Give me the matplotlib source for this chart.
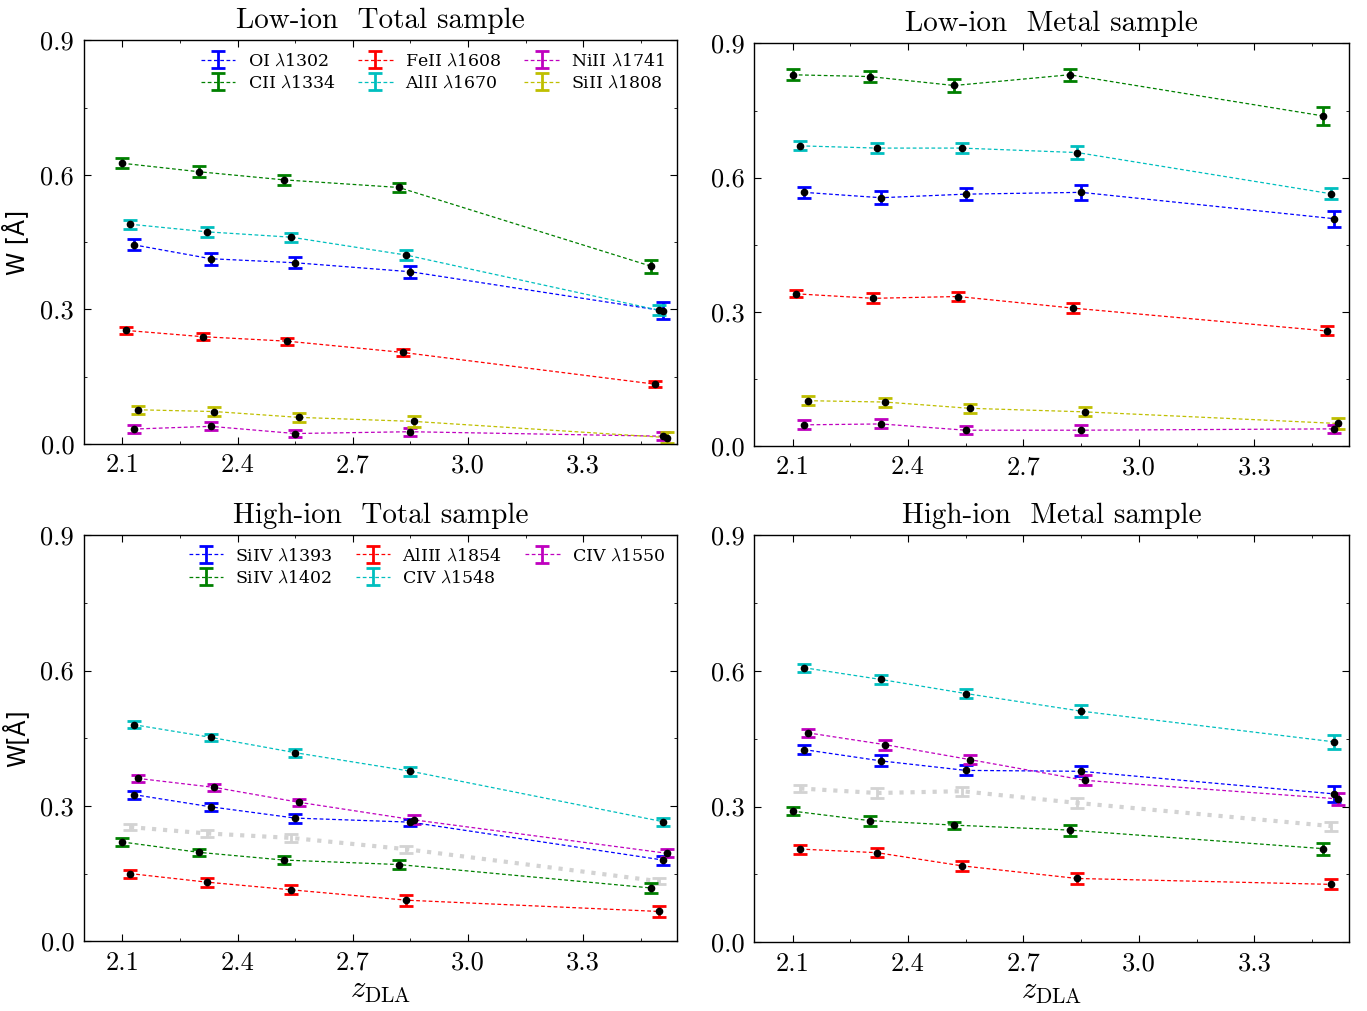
import numpy as np
import matplotlib
matplotlib.use("Agg")
import matplotlib.pyplot as plt
from matplotlib.ticker import MultipleLocator

plt.rcParams.update({
    "font.family": ["cmr10", "DejaVu Serif"],
    "mathtext.fontset": "cm",
    "axes.formatter.use_mathtext": True,
    "axes.linewidth": 1.0,
    "xtick.direction": "in", "ytick.direction": "in",
    "xtick.top": True, "ytick.right": True,
    "xtick.major.size": 5, "ytick.major.size": 5,
    "xtick.minor.size": 2.5, "ytick.minor.size": 2.5,
    "xtick.labelsize": 19, "ytick.labelsize": 19,
})

# redshift bins (median z_DLA) and small per-line offsets used in the plot
zbin = np.array([2.10, 2.30, 2.52, 2.82, 3.478])

# ---- low ions ----
low_names = ["OI $\\lambda$1302", "CII $\\lambda$1334", "FeII $\\lambda$1608",
             "AlII $\\lambda$1670", "NiII $\\lambda$1741", "SiII $\\lambda$1808"]
low_colors = ["b", "g", "r", "c", "m", "y"]
low_dz = [0.03, 0.0, 0.01, 0.02, 0.03, 0.04]

# total sample
lt_OI = [0.444, 0.413, 0.404, 0.384, 0.297]
lt_CII = [0.626, 0.607, 0.589, 0.572, 0.396]
lt_FeII = [0.253, 0.239, 0.229, 0.204, 0.133]
lt_AlII = [0.490, 0.473, 0.461, 0.421, 0.298]
lt_NiII = [0.033, 0.039, 0.023, 0.027, 0.017]
lt_SiII = [0.076, 0.072, 0.059, 0.050, 0.014]
lt_OI_e = [0.012, 0.013, 0.012, 0.013, 0.019]
lt_CII_e = [0.011, 0.012, 0.011, 0.011, 0.015]
lt_FeII_e = [0.007, 0.008, 0.008, 0.008, 0.007]
lt_AlII_e = [0.010, 0.011, 0.010, 0.011, 0.011]
lt_NiII_e = [0.008, 0.009, 0.008, 0.009, 0.009]
lt_SiII_e = [0.009, 0.010, 0.010, 0.012, 0.012]

# metal sample
lm_OI = [0.567, 0.555, 0.563, 0.567, 0.508]
lm_CII = [0.830, 0.826, 0.806, 0.830, 0.738]
lm_FeII = [0.340, 0.330, 0.334, 0.308, 0.257]
lm_AlII = [0.671, 0.666, 0.666, 0.656, 0.564]
lm_NiII = [0.047, 0.049, 0.035, 0.035, 0.038]
lm_SiII = [0.101, 0.098, 0.084, 0.076, 0.050]
lm_OI_e = [0.012, 0.015, 0.013, 0.016, 0.018]
lm_CII_e = [0.012, 0.013, 0.014, 0.013, 0.020]
lm_FeII_e = [0.008, 0.011, 0.010, 0.011, 0.010]
lm_AlII_e = [0.010, 0.011, 0.011, 0.014, 0.012]
lm_NiII_e = [0.010, 0.010, 0.009, 0.011, 0.009]
lm_SiII_e = [0.010, 0.010, 0.010, 0.010, 0.013]

# ---- high ions ----
high_names = ["SiIV $\\lambda$1393", "SiIV $\\lambda$1402", "AlIII $\\lambda$1854",
              "CIV $\\lambda$1548", "CIV $\\lambda$1550"]
high_colors = ["b", "g", "r", "c", "m"]
high_dz = [0.03, 0.0, 0.02, 0.03, 0.04]
ref_dz = 0.02  # grey FeII reference curve

ht_SiIV1393 = [0.325, 0.298, 0.273, 0.264, 0.180]
ht_SiIV1402 = [0.220, 0.197, 0.180, 0.170, 0.118]
ht_AlIII = [0.150, 0.131, 0.114, 0.091, 0.066]
ht_CIV1548 = [0.480, 0.452, 0.418, 0.377, 0.265]
ht_CIV1550 = [0.361, 0.341, 0.308, 0.269, 0.195]
ht_SiIV1393_e = [0.009, 0.009, 0.010, 0.008, 0.010]
ht_SiIV1402_e = [0.008, 0.008, 0.008, 0.010, 0.012]
ht_AlIII_e = [0.009, 0.010, 0.010, 0.012, 0.012]
ht_CIV1548_e = [0.008, 0.008, 0.009, 0.010, 0.009]
ht_CIV1550_e = [0.008, 0.008, 0.008, 0.010, 0.009]

hm_SiIV1393 = [0.426, 0.401, 0.380, 0.378, 0.328]
hm_SiIV1402 = [0.290, 0.269, 0.259, 0.248, 0.207]
hm_AlIII = [0.206, 0.198, 0.169, 0.141, 0.128]
hm_CIV1548 = [0.607, 0.581, 0.550, 0.511, 0.443]
hm_CIV1550 = [0.463, 0.437, 0.404, 0.358, 0.317]
hm_SiIV1393_e = [0.010, 0.012, 0.011, 0.011, 0.017]
hm_SiIV1402_e = [0.008, 0.011, 0.008, 0.012, 0.013]
hm_AlIII_e = [0.010, 0.010, 0.011, 0.012, 0.011]
hm_CIV1548_e = [0.009, 0.011, 0.011, 0.013, 0.015]
hm_CIV1550_e = [0.009, 0.011, 0.010, 0.011, 0.014]


def draw_lines(ax, vals, errs, colors, dzs, names=None):
    for i, (v, e, c, dz) in enumerate(zip(vals, errs, colors, dzs)):
        x = zbin + dz
        lab = names[i] if names else None
        ax.errorbar(x, v, yerr=e, fmt="--", color=c, lw=0.9, dashes=(3, 2),
                    elinewidth=2, capsize=5, capthick=2, label=lab, zorder=2)
        ax.plot(x, v, "o", color="k", ms=4.5, zorder=4)


def draw_ref(ax, v, e):
    x = zbin + ref_dz
    ax.errorbar(x, v, yerr=e, fmt=":", color="#d3d3d3", lw=3,
                elinewidth=2, capsize=5, capthick=2, zorder=1)


def style(ax, title):
    ax.set_xlim(2.0, 3.545)
    ax.set_ylim(0, 0.9)
    ax.xaxis.set_major_locator(MultipleLocator(0.3))
    ax.xaxis.set_minor_locator(MultipleLocator(0.15))
    ax.yaxis.set_major_locator(MultipleLocator(0.3))
    ax.yaxis.set_minor_locator(MultipleLocator(0.15))
    ax.xaxis.set_major_formatter(plt.FormatStrFormatter("%.1f"))
    ax.yaxis.set_major_formatter(plt.FormatStrFormatter("%.1f"))
    ax.tick_params(which="major", pad=7)
    ax.set_title(title, fontsize=21, pad=9)


fig = plt.figure(figsize=(13.67, 10.11), dpi=100)
ax1 = fig.add_axes([0.0614, 0.561, 0.434, 0.399])
ax2 = fig.add_axes([0.5516, 0.559, 0.435, 0.398])
ax3 = fig.add_axes([0.0614, 0.069, 0.434, 0.4016])
ax4 = fig.add_axes([0.5516, 0.068, 0.435, 0.4026])

draw_lines(ax1, [lt_OI, lt_CII, lt_FeII, lt_AlII, lt_NiII, lt_SiII],
           [lt_OI_e, lt_CII_e, lt_FeII_e, lt_AlII_e, lt_NiII_e, lt_SiII_e],
           low_colors, low_dz, low_names)
draw_lines(ax2, [lm_OI, lm_CII, lm_FeII, lm_AlII, lm_NiII, lm_SiII],
           [lm_OI_e, lm_CII_e, lm_FeII_e, lm_AlII_e, lm_NiII_e, lm_SiII_e],
           low_colors, low_dz)

draw_ref(ax3, lt_FeII, lt_FeII_e)
draw_lines(ax3, [ht_SiIV1393, ht_SiIV1402, ht_AlIII, ht_CIV1548, ht_CIV1550],
           [ht_SiIV1393_e, ht_SiIV1402_e, ht_AlIII_e, ht_CIV1548_e, ht_CIV1550_e],
           high_colors, high_dz, high_names)
draw_ref(ax4, lm_FeII, lm_FeII_e)
draw_lines(ax4, [hm_SiIV1393, hm_SiIV1402, hm_AlIII, hm_CIV1548, hm_CIV1550],
           [hm_SiIV1393_e, hm_SiIV1402_e, hm_AlIII_e, hm_CIV1548_e, hm_CIV1550_e],
           high_colors, high_dz)

style(ax1, "Low-ion  Total sample")
style(ax2, "Low-ion  Metal sample")
style(ax3, "High-ion  Total sample")
style(ax4, "High-ion  Metal sample")

leg_kw = dict(loc="upper right", ncol=3, frameon=False,
              prop={"family": "DejaVu Serif", "size": 12.5},
              handlelength=2.0, handletextpad=0.7, columnspacing=1.3,
              labelspacing=0.3, borderaxespad=0.3)
ax1.legend(**leg_kw)
ax3.legend(**leg_kw)

ax1.set_ylabel("W [Å]", family="DejaVu Sans", fontsize=17, labelpad=8)
ax3.set_ylabel("W[Å]", family="DejaVu Sans", fontsize=17, labelpad=8)
ax3.set_xlabel("$z_{\\rm DLA}$", fontsize=22, labelpad=2)
ax4.set_xlabel("$z_{\\rm DLA}$", fontsize=22, labelpad=2)

fig.savefig("out.png", dpi=100)
